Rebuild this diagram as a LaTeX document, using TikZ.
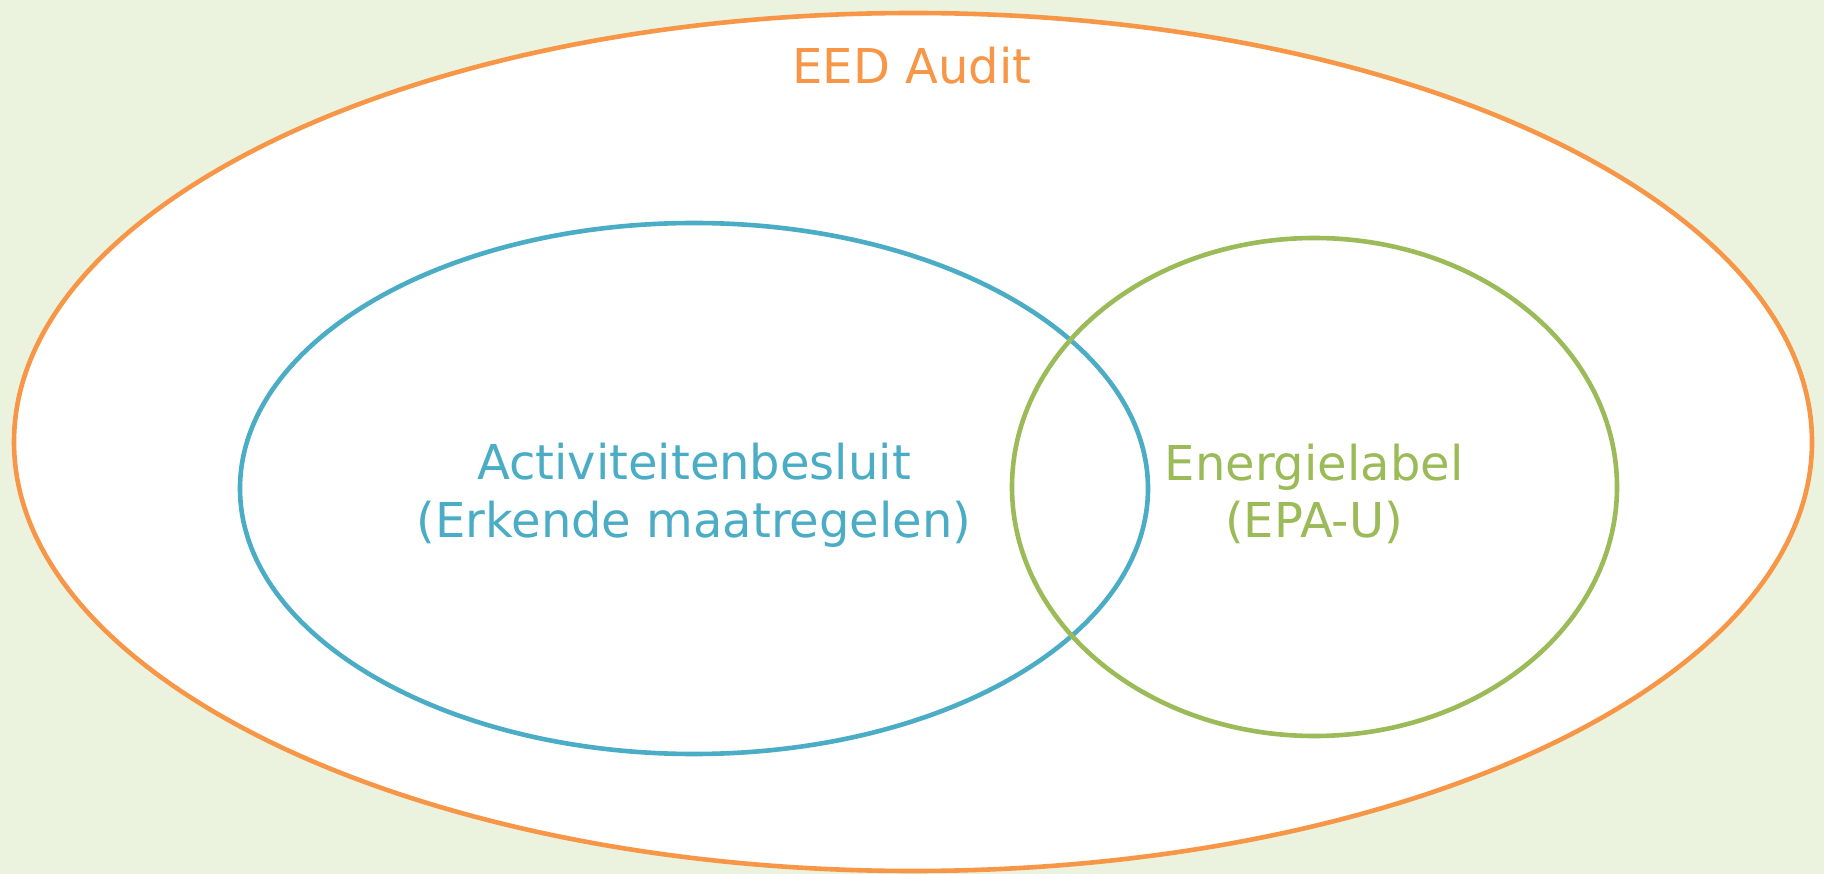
\documentclass[tikz,border=0pt]{standalone}
\usepackage{fontspec}
\setmainfont{DejaVu Sans}
\definecolor{bgc}{HTML}{EBF3DE}
\definecolor{orng}{HTML}{F79646}
\definecolor{blu}{HTML}{4BACC6}
\definecolor{grn}{HTML}{9BBB59}
\begin{document}
\begin{tikzpicture}[x=1pt,y=-1pt,
  lbl/.style={font=\fontsize{48}{58}\selectfont, anchor=base, inner sep=0pt},
  ring/.style={line width=4.6pt}]
\fill[bgc] (0,0) rectangle (1824,874);
\useasboundingbox (0,0) rectangle (1824,874);
\draw[ring, orng, fill=white] (913,442) ellipse [x radius=899, y radius=429];
\draw[ring, blu] (694,488.5) ellipse [x radius=454, y radius=265.5];
\draw[ring, grn] (1314.5,487) ellipse [x radius=302.5, y radius=249];
\node[lbl, text=orng] (eed) at (912,84) {EED Audit};
\node[lbl, text=blu] (act1) at (694,479) {Activiteitenbesluit};
\node[lbl, text=blu] (act2) at (694,537) {(Erkende maatregelen)};
\node[lbl, text=grn] (epa1) at (1314,480) {Energielabel};
\node[lbl, text=grn] (epa2) at (1314,537) {(EPA-U)};
\end{tikzpicture}
\end{document}
